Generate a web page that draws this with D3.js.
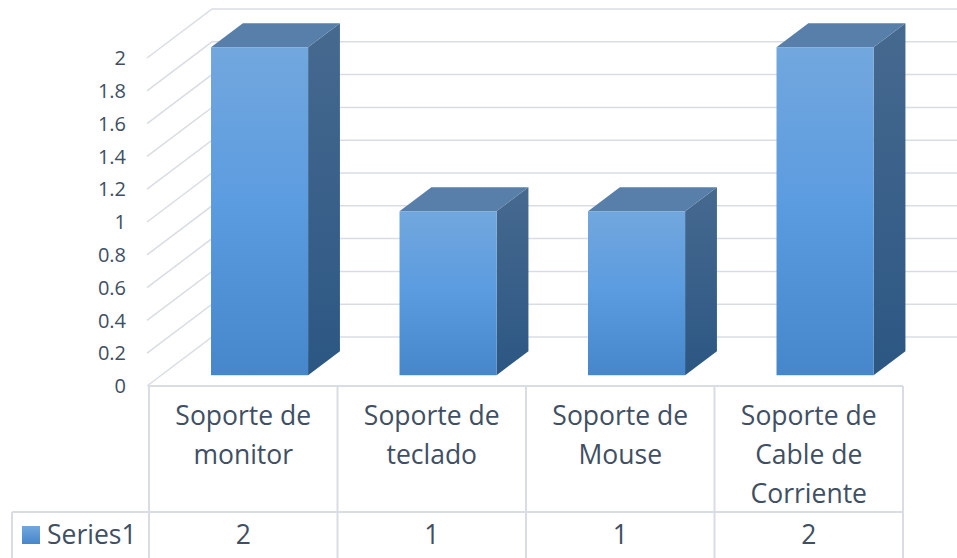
<!DOCTYPE html>
<html>
<head>
<meta charset="utf-8">
<script src="https://cdn.jsdelivr.net/npm/d3@7"></script>
<style>
  body { margin: 0; background: #fff; }
  text { font-family: "Open Sans", sans-serif; fill: #404f63; }
</style>
</head>
<body>
<div id="chart"></div>
<script>
// data
const categories = [
  ["Soporte de", "monitor"],
  ["Soporte de", "teclado"],
  ["Soporte de", "Mouse"],
  ["Soporte de", "Cable de", "Corriente"]
];
const seriesName = "Series1";
const values = [2, 1, 1, 2];
const yTicks = [0, 0.2, 0.4, 0.6, 0.8, 1, 1.2, 1.4, 1.6, 1.8, 2];

const width = 957, height = 558;
const gridColor = "#d9dde3";

const svg = d3.select("#chart")
  .append("svg")
  .attr("width", width)
  .attr("height", height);

const defs = svg.append("defs");
function grad(id, stops) {
  const g = defs.append("linearGradient").attr("id", id)
    .attr("x1", 0).attr("y1", 0).attr("x2", 0).attr("y2", 1);
  stops.forEach(s => g.append("stop").attr("offset", s[0]).attr("stop-color", s[1]));
}
grad("front-grad", [["0%", "#72a7de"], ["50%", "#5a9be0"], ["100%", "#4686ca"]]);
grad("side-grad", [["0%", "#46698f"], ["100%", "#2c5783"]]);
grad("legend-grad", [["0%", "#72a7de"], ["100%", "#4686ca"]]);

// scales (front plane)
const keys = categories.map((c, i) => i);
const x = d3.scaleBand().domain(keys).range([149, 903]).padding(0);
const y = d3.scaleLinear().domain([0, 2]).range([386, 58]);

// oblique depth vector for the full floor depth
const depth = { dx: 65, dy: -49 };
const d0 = 0.22, d1 = 0.71;   // bar front / back depth fractions

// gridlines: left wall diagonal + back wall horizontal
const grid = svg.append("g");
yTicks.forEach(t => {
  const yf = y(t);
  const yb = yf + depth.dy;
  grid.append("polyline")
    .attr("points", `${x.range()[0] - 2},${yf} ${x.range()[0] + depth.dx - 2},${yb} ${width},${yb}`)
    .attr("fill", "none")
    .attr("stroke", gridColor)
    .attr("stroke-width", 1.5);
});

// y axis labels
svg.append("g")
  .selectAll("text")
  .data(yTicks)
  .join("text")
  .attr("x", 126)
  .attr("y", d => y(d))
  .attr("dy", "0.36em")
  .attr("text-anchor", "end")
  .style("font-size", "20px")
  .text(d => d3.format("~g")(d));

// bars
const bw = x.bandwidth();
const barW = bw * 0.515;
const ox0 = depth.dx * d0, oy0 = depth.dy * d0;
const ox1 = depth.dx * d1, oy1 = depth.dy * d1;
const bars = svg.append("g")
  .selectAll("g")
  .data(values)
  .join("g");

bars.each(function(v, i) {
  const g = d3.select(this);
  const xl = x(i) + ox0 + (bw - barW) / 2 + 2;
  const xr = xl + barW;
  const yt = y(v) + oy0;
  const yb = y(0) + oy0;
  const ddx = ox1 - ox0, ddy = oy1 - oy0;
  // side
  g.append("path")
    .attr("d", `M${xr},${yt} L${xr + ddx},${yt + ddy} L${xr + ddx},${yb + ddy} L${xr},${yb} Z`)
    .attr("fill", "url(#side-grad)");
  // top
  g.append("path")
    .attr("d", `M${xl},${yt} L${xl + ddx},${yt + ddy} L${xr + ddx},${yt + ddy} L${xr},${yt} Z`)
    .attr("fill", "#587fa9");
  // front
  g.append("rect")
    .attr("x", xl)
    .attr("y", yt)
    .attr("width", barW)
    .attr("height", yb - yt)
    .attr("fill", "url(#front-grad)");
});

// data table
const table = svg.append("g");
const rowTop = y(0), rowSep = 512;
table.append("line")
  .attr("x1", x.range()[0]).attr("x2", x.range()[1])
  .attr("y1", rowTop).attr("y2", rowTop)
  .attr("stroke", gridColor).attr("stroke-width", 2);
table.append("line")
  .attr("x1", 12).attr("x2", x.range()[1])
  .attr("y1", rowSep).attr("y2", rowSep)
  .attr("stroke", gridColor).attr("stroke-width", 2);
table.append("line")
  .attr("x1", 12).attr("x2", 12)
  .attr("y1", rowSep).attr("y2", height)
  .attr("stroke", gridColor).attr("stroke-width", 2);
table.selectAll(".vline")
  .data(keys.concat([keys.length]))
  .join("line")
  .attr("class", "vline")
  .attr("x1", d => d < keys.length ? x(d) : x.range()[1])
  .attr("x2", d => d < keys.length ? x(d) : x.range()[1])
  .attr("y1", rowTop).attr("y2", height)
  .attr("stroke", gridColor).attr("stroke-width", 2);

// category labels
table.selectAll(".cat")
  .data(categories)
  .join("text")
  .attr("class", "cat")
  .attr("text-anchor", "middle")
  .style("font-size", "26.5px")
  .each(function(lines, i) {
    d3.select(this).selectAll("tspan")
      .data(lines)
      .join("tspan")
      .attr("x", x(i) + bw / 2)
      .attr("y", (d, j) => 425 + j * 39)
      .text(d => d);
  });

// values row
table.selectAll(".val")
  .data(values)
  .join("text")
  .attr("class", "val")
  .attr("x", (d, i) => x(i) + bw / 2)
  .attr("y", 544)
  .attr("text-anchor", "middle")
  .style("font-size", "26.5px")
  .text(d => d);

// legend key
table.append("rect")
  .attr("x", 22).attr("y", 526)
  .attr("width", 18).attr("height", 18)
  .attr("fill", "url(#legend-grad)");
table.append("text")
  .attr("x", 47).attr("y", 544)
  .style("font-size", "26.5px")
  .text(seriesName);
</script>
</body>
</html>
